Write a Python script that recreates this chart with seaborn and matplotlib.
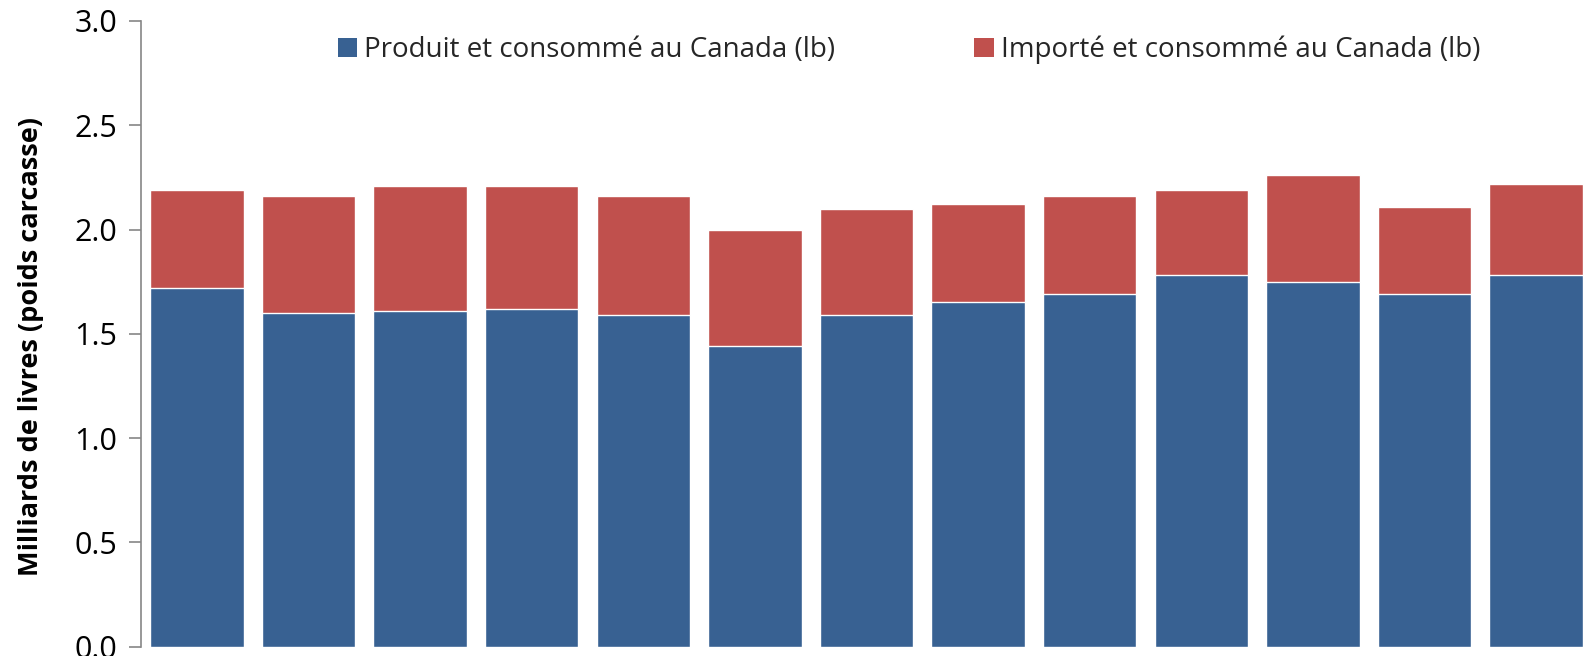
import matplotlib
matplotlib.use("Agg")
import matplotlib.pyplot as plt
from matplotlib.patches import Patch
import seaborn as sns
import pandas as pd

periods = ["P1", "P2", "P3", "P4", "P5", "P6", "P7", "P8", "P9", "P10", "P11", "P12", "P13"]
domestic = [1.72, 1.60, 1.61, 1.62, 1.59, 1.44, 1.59, 1.65, 1.69, 1.78, 1.75, 1.69, 1.78]
imported = [0.47, 0.56, 0.60, 0.59, 0.57, 0.56, 0.51, 0.47, 0.47, 0.41, 0.51, 0.42, 0.44]
label_dom = "Produit et consommé au Canada (lb)"
label_imp = "Importé et consommé au Canada (lb)"
y_label = "Milliards de livres (poids carcasse)"
y_ticks = [0.0, 0.5, 1.0, 1.5, 2.0, 2.5, 3.0]

BLUE = "#386192"
RED = "#C0504D"

sns.set_style("white")
plt.rcParams["font.family"] = ["Open Sans", "DejaVu Sans"]

df = pd.DataFrame({"period": periods, "domestic": domestic, "imported": imported})
df["total"] = df["domestic"] + df["imported"]

fig = plt.figure(figsize=(15.92, 6.56), dpi=100)
ax = fig.add_axes([141 / 1592, (656 - 646.5) / 656, 1 - 141 / 1592, (646.5 - 21) / 656])

sns.barplot(data=df, x="period", y="total", color=RED, saturation=1, width=0.838, ax=ax)
sns.barplot(data=df, x="period", y="domestic", color=BLUE, saturation=1, width=0.838, ax=ax)

ax.set_xlim(-0.5, 12.5)
ax.set_ylim(0, 3.0)
ax.set_yticks(y_ticks)
ax.set_yticklabels([f"{t:.1f}" for t in y_ticks], fontsize=22, color="black")
ax.set_xticks([])
ax.set_xlabel("")
ax.set_ylabel(y_label, fontsize=19.5, fontweight="bold", color="black")
ax.yaxis.set_label_coords(-0.0668, 0.48)

for s in ["top", "right", "bottom"]:
    ax.spines[s].set_visible(False)
ax.spines["left"].set_color("#868686")
ax.spines["left"].set_linewidth(1.2)
ax.tick_params(axis="y", which="major", left=True, direction="out", length=9,
               width=1.2, color="#868686", pad=8)

handles = [Patch(facecolor=BLUE, edgecolor="none", label=label_dom),
           Patch(facecolor=RED, edgecolor="none", label=label_imp)]
fig.legend(handles=handles, loc="center left", bbox_to_anchor=(338 / 1592, 1 - 50 / 656),
           ncol=2, frameon=False, fontsize=20, handlelength=0.7, handleheight=0.7,
           handletextpad=0.25, columnspacing=5.0, borderaxespad=0, borderpad=0)

fig.savefig("out.png", dpi=100)
